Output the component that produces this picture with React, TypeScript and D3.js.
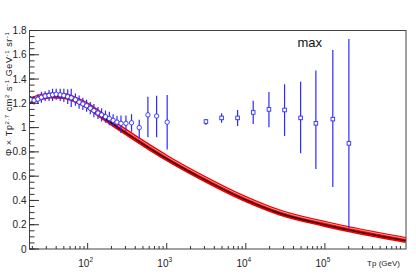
import React from "react";
import * as d3 from "d3";

// model curve (Tp in GeV, flux x Tp^2.7)
const curveE = [18, 25, 35, 50, 70, 100, 150, 264, 614, 1000, 3000, 9270, 27000, 94000, 195000, 1060000];
const curveVal = [1.215, 1.25, 1.265, 1.26, 1.23, 1.18, 1.1, 0.99, 0.835, 0.75, 0.578, 0.42, 0.3, 0.21, 0.165, 0.074];

// low energy points (circles)
const circE = [19, 21, 23.5, 26, 29, 32.5, 36, 40, 45, 50, 56, 62, 70, 78, 87, 97, 108, 120, 135, 150, 168, 188, 210, 235, 264, 305, 359, 449, 578, 745, 1013];
const circVal = [1.23, 1.225, 1.235, 1.25, 1.26, 1.265, 1.27, 1.275, 1.27, 1.265, 1.255, 1.245, 1.23, 1.21, 1.195, 1.18, 1.16, 1.14, 1.12, 1.105, 1.09, 1.075, 1.06, 1.045, 1.035, 1.035, 1.04, 1.0, 1.105, 1.095, 1.045];
const circLo = [1.2, 1.19, 1.195, 1.205, 1.22, 1.22, 1.22, 1.23, 1.22, 1.21, 1.195, 1.17, 1.18, 1.155, 1.145, 1.13, 1.11, 1.085, 1.07, 1.05, 1.04, 1.02, 1.01, 0.995, 0.955, 0.97, 0.965, 0.91, 0.92, 0.92, 0.82];
const circHi = [1.26, 1.26, 1.275, 1.295, 1.3, 1.31, 1.32, 1.32, 1.32, 1.32, 1.315, 1.32, 1.28, 1.265, 1.245, 1.23, 1.21, 1.195, 1.17, 1.16, 1.14, 1.13, 1.11, 1.095, 1.1, 1.1, 1.11, 1.065, 1.255, 1.263, 1.268];

// high energy points (squares)
const sqE = [3130, 4940, 7870, 12400, 19600, 30900, 49300, 76900, 125900, 201000];
const sqVal = [1.05, 1.08, 1.08, 1.125, 1.15, 1.145, 1.08, 1.035, 1.07, 0.87];
const sqLo = [1.021, 1.04, 1.013, 1.03, 1.002, 0.931, 0.788, 0.66, 0.51, 0.17];
const sqHi = [1.071, 1.118, 1.145, 1.222, 1.293, 1.357, 1.378, 1.47, 1.64, 1.73];

const yTicks = [0, 0.2, 0.4, 0.6, 0.8, 1, 1.2, 1.4, 1.6, 1.8];
const xDecades = [2, 3, 4, 5];

const W = 416;
const H = 277;
const left = 29.5;
const right = 406;
const top = 30.5;
const bottom = 249;
const font = "'Liberation Sans', Arial, Helvetica, sans-serif";
const blue = "#2b2bff";

export default function App() {
  const x = d3.scaleLog().domain([18.4, 1.06e6]).range([left, right]);
  const y = d3.scaleLinear().domain([0, 1.8]).range([bottom, top]);
  const fmt = d3.format("~g");

  const line = d3
    .line<number>()
    .x((d, i) => x(curveE[i]))
    .y(d => y(d))
    .curve(d3.curveMonotoneX);
  const curvePath = line(curveVal) || "";

  const minorY = d3.range(0, 1.8001, 0.05);
  const minorX: number[] = [];
  for (let p = 1; p <= 6; p++) {
    for (let m = 2; m <= 9; m++) {
      const v = m * Math.pow(10, p);
      if (v > 18.4 && v < 1.06e6) minorX.push(v);
    }
  }

  return (
    <svg width={W} height={H} style={{ position: "absolute", left: 0, top: 0, background: "#fff" }}>
      <defs>
        <clipPath id="frame">
          <rect x={left} y={top} width={right - left} height={bottom - top} />
        </clipPath>
      </defs>
      <rect x={0} y={0} width={W} height={H} fill="#fff" />

      <g clipPath="url(#frame)">
        {/* model band */}
        <path d={curvePath} fill="none" stroke="#ee0000" strokeWidth={6} />
        <path d={curvePath} fill="none" stroke="#ffc0c0" strokeWidth={0.8} transform="translate(0,-1.5)" />
        <path d={curvePath} fill="none" stroke="#000" strokeWidth={1.1} transform="translate(0,0.8)" />

        {/* error bars */}
        {circE.map((e, i) => (
          <line key={"ce" + i} x1={x(e)} x2={x(e)} y1={y(circLo[i])} y2={y(circHi[i])} stroke={blue} strokeWidth={1.2} />
        ))}
        {sqE.map((e, i) => (
          <line key={"se" + i} x1={x(e)} x2={x(e)} y1={y(sqLo[i])} y2={y(sqHi[i])} stroke={blue} strokeWidth={1.2} />
        ))}
        {circE.map((e, i) => (
          <circle key={"c" + i} cx={x(e)} cy={y(circVal[i])} r={2.2} fill="#fff" stroke={blue} strokeWidth={0.9} />
        ))}
        {sqE.map((e, i) => (
          <rect key={"s" + i} x={x(e) - 1.8} y={y(sqVal[i]) - 1.8} width={3.6} height={3.6} fill="#fff" stroke={blue} strokeWidth={0.9} />
        ))}
      </g>

      {/* frame */}
      <rect x={left} y={top} width={right - left} height={bottom - top} fill="none" stroke="#444" strokeWidth={1} />

      {/* y axis ticks */}
      {minorY.map((v, i) => (
        <line key={"my" + i} x1={left} x2={left + 5} y1={y(v)} y2={y(v)} stroke="#333" strokeWidth={1} />
      ))}
      {yTicks.map(v => (
        <g key={"yt" + v}>
          <line x1={left} x2={left + 9.5} y1={y(v)} y2={y(v)} stroke="#333" strokeWidth={1} />
          <text x={left - 3} y={y(v) + 3.5} textAnchor="end" fontSize={10} fontFamily={font} fill="#222">
            {fmt(v)}
          </text>
        </g>
      ))}

      {/* x axis ticks */}
      {minorX.map((v, i) => (
        <line key={"mx" + i} x1={x(v)} x2={x(v)} y1={bottom} y2={bottom - 3} stroke="#333" strokeWidth={1} />
      ))}
      {xDecades.map(p => (
        <g key={"xt" + p}>
          <line x1={x(Math.pow(10, p))} x2={x(Math.pow(10, p))} y1={bottom} y2={bottom - 6} stroke="#333" strokeWidth={1} />
          <text x={x(Math.pow(10, p)) - 2} y={266.5} textAnchor="middle" fontSize={10} fontFamily={font} fill="#222">
            10
            <tspan fontSize={6.5} dy={-4.5}>
              {p}
            </tspan>
          </text>
        </g>
      ))}

      {/* axis titles */}
      <text x={400} y={266} textAnchor="end" fontSize={8} fontFamily={font} fill="#222">
        Tp (GeV)
      </text>
      <text
        transform={`translate(12, ${top + 1}) rotate(-90)`}
        textAnchor="end"
        fontSize={9}
        letterSpacing={0.6}
        fontFamily={font}
        fill="#222"
      >
        Φ × Tp
        <tspan fontSize={6} dy={-3.2}>2.7</tspan>
        <tspan dy={3.2}> cm</tspan>
        <tspan fontSize={6} dy={-3.2}>2</tspan>
        <tspan dy={3.2}> s</tspan>
        <tspan fontSize={6} dy={-3.2}>-1</tspan>
        <tspan dy={3.2}> GeV</tspan>
        <tspan fontSize={6} dy={-3.2}>-1</tspan>
        <tspan dy={3.2}> sr</tspan>
        <tspan fontSize={6} dy={-3.2}>-1</tspan>
      </text>

      <text x={297.5} y={46.5} fontSize={13} fontFamily={font} fill="#111">
        max
      </text>
    </svg>
  );
}
